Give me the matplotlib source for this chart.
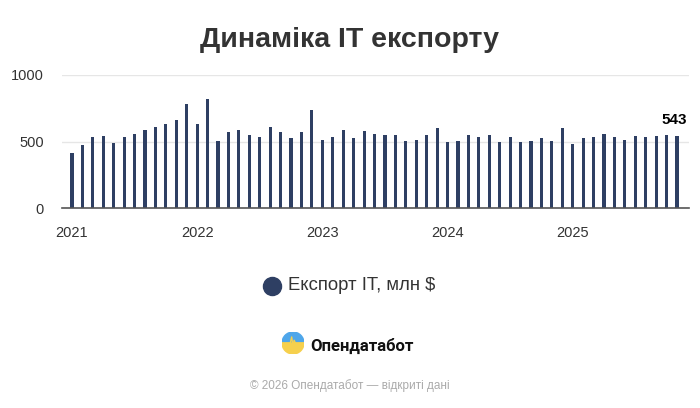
import matplotlib.pyplot as plt
import numpy as np
from matplotlib.patches import Wedge

plt.rcParams["font.family"] = ["Liberation Sans", "DejaVu Sans"]

# Місячний експорт IT, млн $ (січень 2021 - листопад 2025)
export_2021 = [410, 472, 532, 540, 490, 532, 560, 585, 612, 630, 665, 780]
export_2022 = [630, 820, 507, 570, 585, 552, 532, 612, 570, 525, 570, 735]
export_2023 = [515, 532, 585, 525, 578, 560, 550, 550, 507, 515, 550, 602]
export_2024 = [500, 507, 550, 532, 550, 500, 532, 500, 507, 525, 507, 602]
export_2025 = [480, 525, 532, 560, 532, 515, 540, 532, 540, 552, 543]
values = export_2021 + export_2022 + export_2023 + export_2024 + export_2025
year_labels = ["2021", "2022", "2023", "2024", "2025"]
y_ticks = [0, 500, 1000]

bar_color = "#2e3f63"
text_color = "#333333"

fig = plt.figure(figsize=(7, 4.08), dpi=100)
ax = fig.add_axes([62 / 700, 200 / 408, 627 / 700, 133 / 408])

x = np.arange(len(values))
ax.bar(x, values, width=0.3, color=bar_color, zorder=3)

ax.set_xlim(-0.96, len(values) + 0.15)
ax.set_ylim(0, 1000)
ax.set_yticks(y_ticks)
ax.set_yticklabels([str(v) for v in y_ticks], fontsize=10.5, color=text_color)
ax.set_xticks([i * 12 for i in range(len(year_labels))])
ax.set_xticklabels(year_labels, fontsize=10.5, color=text_color)
ax.tick_params(axis="both", length=0)
ax.tick_params(axis="x", pad=13)
ax.tick_params(axis="y", pad=13)
ax.grid(axis="y", color="#e6e6e6", linewidth=1, zorder=0)
for side in ["top", "right", "left"]:
    ax.spines[side].set_visible(False)
ax.spines["bottom"].set_color("#555555")
ax.spines["bottom"].set_linewidth(1.2)
ax.spines["bottom"].set_zorder(4)

# підпис останнього значення
ax.annotate(str(values[-1]), (x[-1], values[-1]), xytext=(-2, 6),
            textcoords="offset points", ha="center", va="bottom",
            fontsize=11, fontweight="bold", color="#000000")

# заголовок
fig.text(0.5, 1 - 40 / 408, "Динаміка IT експорту", ha="center", va="center",
         fontsize=20.5, fontweight="bold", color=text_color)

# легенда
fig.add_artist(plt.Line2D([272 / 700], [1 - 286 / 408], marker="o",
                          markersize=13, color=bar_color, linestyle="none",
                          transform=fig.transFigure))
fig.text(288 / 700, 1 - 286 / 408, "Експорт IT, млн $", ha="left", va="center",
         fontsize=13.3, color=text_color)

# логотип
logo = fig.add_axes([282 / 700, 1 - 354 / 408, 22 / 700, 22 / 408])
logo.set_xlim(-1, 1)
logo.set_ylim(-1, 1)
logo.set_aspect("equal")
logo.axis("off")
logo.add_patch(Wedge((0, 0), 1, 0, 180, color="#4ea6ea"))
logo.add_patch(Wedge((0, 0), 1, 180, 360, color="#f6d04d"))
lx = [-1, -0.25, -0.12, 0.0, 0.1, 0.22, 1]
ly = [0.0, 0.0, 0.55, -0.3, 0.25, 0.0, 0.0]
logo.plot(lx, ly, color="#f6d04d", linewidth=1)
fig.text(310 / 700, 1 - 346 / 408, "Опендатабот", ha="left", va="center",
         fontsize=12, fontweight="bold", color="#111111",
         family=["Roboto", "DejaVu Sans"])

# джерело
fig.text(0.5, 1 - 386 / 408, "© 2026 Опендатабот — відкриті дані",
         ha="center", va="center", fontsize=8.5, color="#aaaaaa")

fig.savefig("out.png", dpi=100)
